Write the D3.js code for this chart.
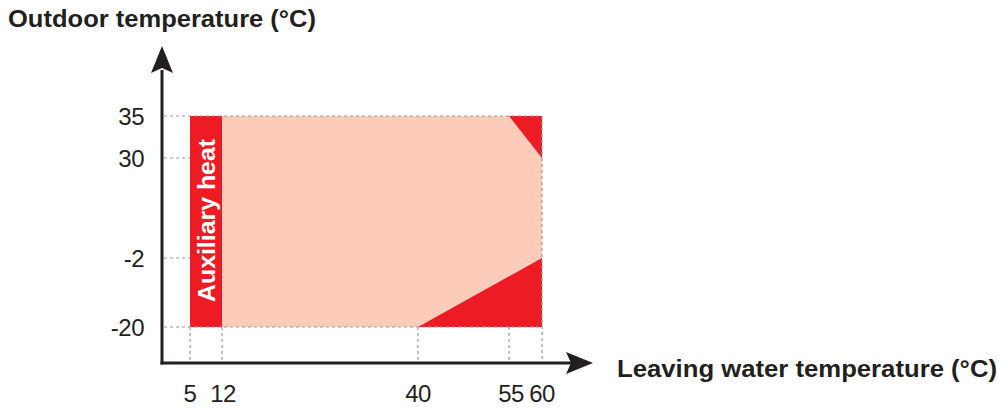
<!DOCTYPE html>
<html><head><meta charset="utf-8">
<script src="https://cdn.jsdelivr.net/npm/d3@7"></script>
<style>body{margin:0;background:#fff}svg{display:block}</style>
</head><body>
<svg id="c" width="998" height="412"></svg>
<script>
// Data
const xTicks = [5, 12, 40, 55, 60];
const yTicks = [-20, -2, 30, 35];
const auxRange = {x0: 5, x1: 12, y0: -20, y1: 35};
const operRange = {x0: 12, x1: 60, y0: -20, y1: 35};
const cutTop = [[55, 35], [60, 35], [60, 30]];
const cutBottom = [[40, -20], [60, -20], [60, -2]];
const xTitle = "Leaving water temperature (°C)";
const yTitle = "Outdoor temperature (°C)";
const auxLabel = "Auxiliary heat";

const svg = d3.select("#c");
const ink = "#231f20", red = "#ed1c24", pink = "#fdcbb9", grid = "#9a9a9a";
const font = "'Liberation Sans', Arial, Helvetica, sans-serif";

// piecewise scales (reference chart is not to scale)
const x = d3.scaleLinear().domain(xTicks).range([190, 222, 418, 509, 542]);
const y = d3.scaleLinear().domain(yTicks).range([327, 258, 158, 116]);
const axisX = 162, axisY = 363;

// fills
svg.append("rect").attr("x", x(operRange.x0)).attr("y", y(operRange.y1))
  .attr("width", x(operRange.x1) - x(operRange.x0)).attr("height", y(operRange.y0) - y(operRange.y1))
  .attr("fill", pink);
svg.append("rect").attr("x", x(auxRange.x0)).attr("y", y(auxRange.y1))
  .attr("width", x(auxRange.x1) - x(auxRange.x0)).attr("height", y(auxRange.y0) - y(auxRange.y1))
  .attr("fill", red);
const line = d3.line().x(d => x(d[0])).y(d => y(d[1]));
[cutTop, cutBottom].forEach(p => svg.append("path").attr("d", line(p) + "Z").attr("fill", red));

// dashed guides
const dash = svg.append("g").attr("stroke", grid).attr("stroke-width", 1.2).attr("stroke-dasharray", "3,3").attr("fill", "none");
yTicks.forEach(v => {
  const full = (v === operRange.y0 || v === operRange.y1);
  dash.append("line").attr("x1", axisX + 2).attr("x2", full ? x(operRange.x1) : x(auxRange.x0))
    .attr("y1", y(v)).attr("y2", y(v));
});
xTicks.forEach(v => {
  const top = v === operRange.x1 ? y(operRange.y1) : y(operRange.y0);
  dash.append("line").attr("x1", x(v)).attr("x2", x(v)).attr("y1", top).attr("y2", axisY - 2);
});

// axes
svg.append("line").attr("x1", axisX).attr("x2", axisX).attr("y1", axisY + 1.5).attr("y2", 70)
  .attr("stroke", ink).attr("stroke-width", 3);
svg.append("line").attr("x1", axisX - 1.5).attr("x2", 572).attr("y1", axisY).attr("y2", axisY)
  .attr("stroke", ink).attr("stroke-width", 3);
svg.append("path").attr("d", `M${axisX},46 L${axisX + 11},73 L${axisX},68 L${axisX - 11},73 Z`).attr("fill", ink);
svg.append("path").attr("d", `M593,${axisY} L566,${axisY - 11} L571,${axisY} L566,${axisY + 11} Z`).attr("fill", ink);

// tick labels
svg.append("g").selectAll("text").data(xTicks).join("text")
  .attr("x", d => x(d) + (d === 55 ? 2 : d === 12 ? 1 : 0)).attr("y", 402).attr("text-anchor", "middle")
  .attr("font-family", font).attr("font-size", 24).attr("fill", ink)
  .attr("letter-spacing", -0.5).text(d => d);
svg.append("g").selectAll("text").data(yTicks).join("text")
  .attr("x", 144).attr("y", d => y(d) + 8.5).attr("text-anchor", "end")
  .attr("font-family", font).attr("font-size", 24).attr("fill", ink)
  .attr("letter-spacing", -0.5).text(d => d);

// titles
svg.append("text").attr("x", 8).attr("y", 27).attr("font-family", font).attr("font-weight", "bold")
  .attr("font-size", 24).attr("fill", ink).attr("textLength", 308).attr("lengthAdjust", "spacingAndGlyphs").text(yTitle);
svg.append("text").attr("x", 617).attr("y", 377).attr("font-family", font).attr("font-weight", "bold")
  .attr("font-size", 24).attr("fill", ink).attr("textLength", 380).attr("lengthAdjust", "spacingAndGlyphs").text(xTitle);

// auxiliary label
svg.append("text").attr("transform", `translate(${(x(auxRange.x0) + x(auxRange.x1)) / 2 + 8.5},302) rotate(-90)`)
  .attr("font-family", font).attr("font-weight", "bold").attr("font-size", 24).attr("fill", "#fff")
  .attr("textLength", 163).attr("lengthAdjust", "spacingAndGlyphs").text(auxLabel);
</script>
</body></html>
